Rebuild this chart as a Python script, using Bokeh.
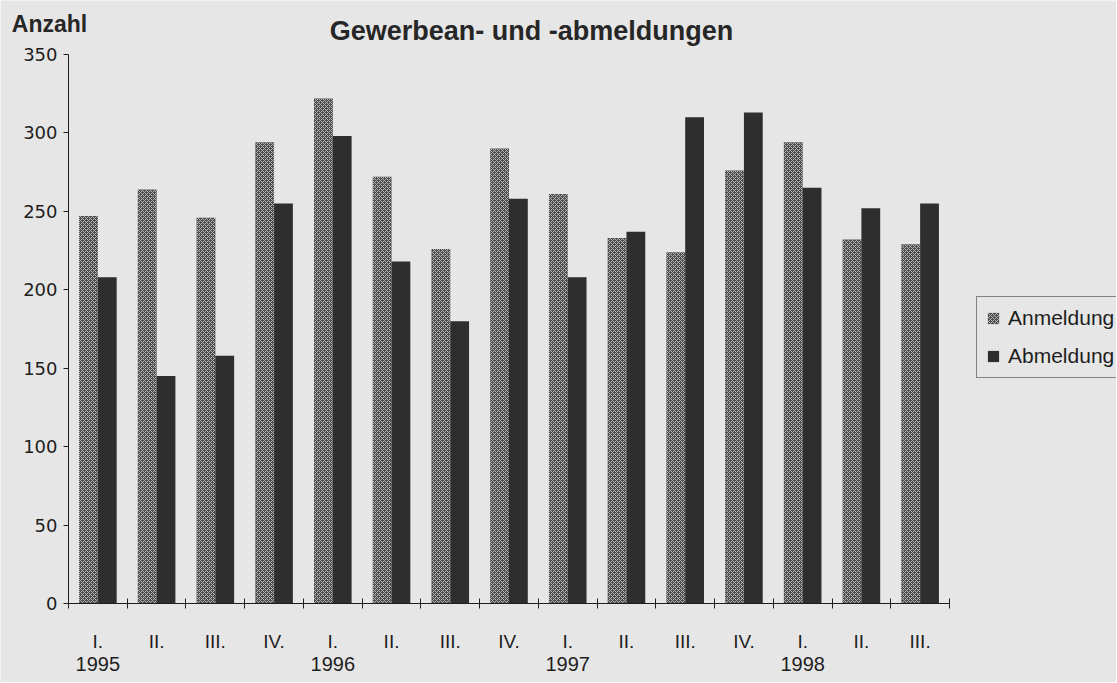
from bokeh.plotting import figure
from bokeh.models import (ColumnDataSource, Range1d, LinearAxis, FixedTicker, Label,
                          Legend, LegendItem)
from bokeh.transform import dodge
from bokeh.embed import file_html
from bokeh.resources import INLINE

# ---- data ----
quartale = ["I.", "II.", "III.", "IV.", "I.", "II.", "III.", "IV.",
            "I.", "II.", "III.", "IV.", "I.", "II.", "III."]
jahre = ["1995", "", "", "", "1996", "", "", "", "1997", "", "", "", "1998", "", ""]
anmeldung = [247, 264, 246, 294, 322, 272, 226, 290, 261, 233, 224, 276, 294, 232, 229]
abmeldung = [208, 145, 158, 255, 298, 218, 180, 258, 208, 237, 310, 313, 265, 252, 255]
y_ticks = [0, 50, 100, 150, 200, 250, 300, 350]
y_max = 350

n = len(quartale)
pos = [i + 0.5 for i in range(n)]
src = ColumnDataSource(dict(pos=pos, anm=anmeldung, abm=abmeldung))

BG = "#e6e6e6"
FONT = "Liberation Sans"
INK = "#1e1e1e"

W, H = 1116, 682
# frame covers the whole canvas; axes are pinned at x=0 / y=0
px_x = 881.0 / n            # pixels per quarter
px_y = 549.0 / y_max        # pixels per unit
x0_px, y0_px = 68.0, 603.0  # canvas position of the origin
x_range = Range1d(-x0_px / px_x, (W - x0_px) / px_x)
y_range = Range1d(-(H - y0_px) / px_y, y0_px / px_y)

p = figure(width=W, height=H, output_backend="svg", toolbar_location=None,
           x_range=x_range, y_range=y_range,
           x_axis_location=None, y_axis_location=None,
           min_border=0,
           background_fill_color=BG, border_fill_color=BG, outline_line_color=None)
p.grid.visible = False

bw = 0.32
r_anm = p.vbar(x=dodge("pos", -bw / 2, range=p.x_range), top="anm", width=bw, source=src,
               fill_color="#4c4c4c", line_color=None,
               hatch_pattern="diagonal_cross", hatch_color="#b4b4b4",
               hatch_scale=4, hatch_weight=1)
r_abm = p.vbar(x=dodge("pos", bw / 2, range=p.x_range), top="abm", width=bw, source=src,
               fill_color="#2e2e2e", line_color=None)

# y axis
yax = LinearAxis(ticker=FixedTicker(ticks=y_ticks), fixed_location=0, bounds=(0, y_max),
                 major_tick_in=0, major_tick_out=5, minor_tick_line_color=None,
                 major_label_standoff=6, major_label_text_font="DejaVu Sans",
                 major_label_text_font_size="18px", major_label_text_color=INK,
                 axis_line_color=INK, major_tick_line_color=INK)
p.add_layout(yax, "left")

# x axis: tick marks at quarter boundaries
ax_ticks = LinearAxis(ticker=FixedTicker(ticks=list(range(n + 1))), fixed_location=0,
                      bounds=(0, n),
                      major_tick_in=5, major_tick_out=5, minor_tick_line_color=None,
                      major_label_text_font_size="1px", major_label_standoff=0,
                      major_label_overrides={i: "" for i in range(n + 1)},
                      axis_line_color=INK, major_tick_line_color=INK)
p.add_layout(ax_ticks, "below")

# quarter labels
ax_q = LinearAxis(ticker=FixedTicker(ticks=pos), fixed_location=0, bounds=(0, n),
                  major_label_overrides={pos[i]: quartale[i] for i in range(n)},
                  axis_line_color=None, major_tick_line_color=None, minor_tick_line_color=None,
                  major_tick_in=0, major_tick_out=0,
                  major_label_standoff=27, major_label_text_font=FONT,
                  major_label_text_font_size="19px", major_label_text_color=INK)
p.add_layout(ax_q, "below")

# year labels
year_pos = [pos[i] for i in range(n) if jahre[i]]
ax_y = LinearAxis(ticker=FixedTicker(ticks=year_pos), fixed_location=0, bounds=(0, n),
                  major_label_overrides={pos[i]: jahre[i] for i in range(n) if jahre[i]},
                  axis_line_color=None, major_tick_line_color=None, minor_tick_line_color=None,
                  major_tick_in=0, major_tick_out=0,
                  major_label_standoff=53, major_label_text_font=FONT,
                  major_label_text_font_size="20px", major_label_text_color=INK)
p.add_layout(ax_y, "below")

# title and y axis caption
p.add_layout(Label(x=(531 - x0_px) / px_x, y=y_max + (54 - 30) / px_y,
                   text="Gewerbean- und -abmeldungen",
                   text_font=FONT, text_font_style="bold", text_font_size="27px",
                   text_color="#262626", text_align="center", text_baseline="middle"))
p.add_layout(Label(x=(49 - x0_px) / px_x, y=y_max + (54 - 23) / px_y, text="Anzahl",
                   text_font=FONT, text_font_style="bold", text_font_size="23px",
                   text_color="#262626", text_align="center", text_baseline="middle"))

legend = Legend(items=[LegendItem(label="Anmeldung", renderers=[r_anm]),
                       LegendItem(label="Abmeldung", renderers=[r_abm])],
                location=(976, H - 378), margin=0, padding=9, spacing=14,
                glyph_width=14, glyph_height=14, label_standoff=8,
                label_text_font=FONT, label_text_font_size="21px", label_text_color=INK,
                border_line_color=INK, border_line_width=1,
                background_fill_color=BG, background_fill_alpha=1.0)
p.add_layout(legend)

open("out.html", "w").write(file_html(p, INLINE))
